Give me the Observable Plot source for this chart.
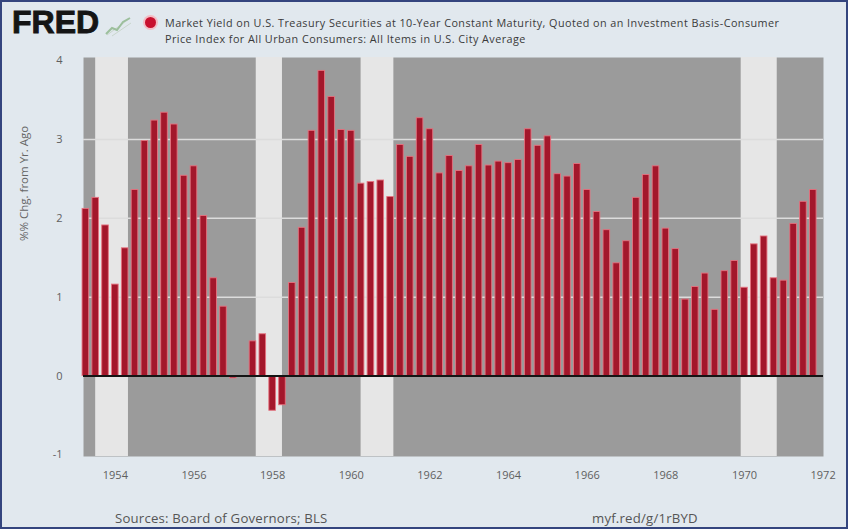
<!DOCTYPE html>
<html><head><meta charset="utf-8">
<script src="https://cdn.jsdelivr.net/npm/d3@7"></script>
<script src="https://cdn.jsdelivr.net/npm/@observablehq/plot@0.6"></script>
<style>
html,body{margin:0;padding:0;background:#fff;}
#wrap{width:848px;height:529px;box-sizing:border-box;border:2px solid #34457e;background:#e1e8ee;position:relative;overflow:hidden;font-family:"Open Sans","Liberation Sans",sans-serif;}
#head{height:42px;position:relative;}
#logo{position:absolute;left:10px;top:2px;font-family:"Liberation Sans",Arial,sans-serif;font-weight:bold;font-size:32px;color:#151515;letter-spacing:0px;-webkit-text-stroke:0.9px #151515;}
#icon{position:absolute;left:102px;top:13px;}
#dot{position:absolute;left:143px;top:15px;width:11px;height:11px;border-radius:50%;background:#c8102e;box-shadow:0 0 0 2px #f4bcc4;}
#leg{position:absolute;left:163px;top:13px;font-size:10.8px;letter-spacing:0.45px;line-height:16px;color:#3a3a3a;white-space:nowrap;}
#chart svg{display:block;}
#foot{height:43px;position:relative;color:#555;font-size:13.2px;letter-spacing:0.2px;}
#src{position:absolute;left:113px;top:25px;}
#url{position:absolute;left:590px;top:25px;}
</style>
</head><body>
<div id="wrap">
  <div id="head">
    <div id="logo">FRED</div>
    <svg id="icon" width="28" height="22" viewBox="0 0 28 22">
      <line x1="3" y1="20" x2="25" y2="4" stroke="#c9d6cc" stroke-width="1"/>
      <line x1="8" y1="21" x2="27" y2="8" stroke="#c9d6cc" stroke-width="1"/>
      <polyline points="2,19 8,13 13,15 19,7 26,3" fill="none" stroke="#9cbf9c" stroke-width="2"/>
    </svg>
    <div id="dot"></div>
    <div id="leg">Market Yield on U.S. Treasury Securities at 10-Year Constant Maturity, Quoted on an Investment Basis-Consumer<br>Price Index for All Urban Consumers: All Items in U.S. City Average</div>
  </div>
  <div id="chart"></div>
  <div id="foot"><div id="src">Sources: Board of Governors; BLS</div><div id="url">myf.red/g/1rBYD</div></div>
</div>
<script>
// Quarterly observations, first quarter 1953 Q2 (April 1953) through 1971 Q4
const firstYear = 1953, firstQuarter = 2;
const values = [
  2.12, 2.26, 1.91,
  1.16, 1.62, 2.36, 2.98,
  3.24, 3.34, 3.19, 2.54,
  2.66, 2.03, 1.24, 0.88,
  -0.03, 0.00, 0.44, 0.53,
  -0.44, -0.37, 1.18, 1.88,
  3.11, 3.87, 3.54, 3.12,
  3.11, 2.44, 2.46, 2.48,
  2.27, 2.93, 2.78, 3.27,
  3.13, 2.57, 2.79, 2.60,
  2.66, 2.93, 2.67, 2.72,
  2.70, 2.74, 3.13, 2.92,
  3.04, 2.56, 2.53, 2.69,
  2.36, 2.08, 1.85, 1.43,
  1.71, 2.26, 2.55, 2.66,
  1.87, 1.61, 0.97, 1.13,
  1.30, 0.84, 1.33, 1.46,
  1.12, 1.67, 1.77, 1.24,
  1.21, 1.93, 2.21, 2.36
];
// NBER recessions (start, end) as year + month
const recessionStart = [[1953, 7], [1957, 8], [1960, 4], [1969, 12]];
const recessionEnd   = [[1954, 5], [1958, 4], [1961, 2], [1970, 11]];
const xTicks = [1954, 1956, 1958, 1960, 1962, 1964, 1966, 1968, 1970, 1972];
const yTicks = [-1, 0, 1, 2, 3, 4];
const yLabel = "%% Chg. from Yr. Ago";

const ym = ([y, m]) => y + (m - 1) / 12;
const data = values.map((v, i) => {
  const q = firstQuarter - 1 + i;
  return {t: firstYear + Math.floor(q / 4) + (q % 4) / 4, v};
});
const recessions = recessionStart.map((s, i) => ({a: ym(s), b: ym(recessionEnd[i])}));
const half = 0.084;

const chart = Plot.plot({
  width: 844,
  height: 440,
  marginLeft: 81,
  marginRight: 23,
  marginTop: 13,
  marginBottom: 28,
  style: {background: "transparent", fontFamily: "'Open Sans', sans-serif", fontSize: "11px", color: "#5f5f5f"},
  x: {domain: [1953.19, 1972.01], ticks: xTicks, tickFormat: d => String(d)},
  y: {domain: [-1.02, 4.04], ticks: yTicks, tickFormat: d => String(d)},
  marks: [
    Plot.frame({fill: "#9b9b9b", stroke: null}),
    Plot.rect(recessions, {x1: "a", x2: "b", y1: -1.02, y2: 4.04, fill: "#e6e6e6"}),
    Plot.gridY([1, 2, 3], {stroke: "#dcdcdc", strokeOpacity: 1, strokeWidth: 1.5}),
    Plot.rect(data, {x1: d => d.t - half, x2: d => d.t + half, y1: 0, y2: "v", fill: "#a3172b", stroke: "#e5727f", strokeWidth: 0.9}),
    Plot.ruleY([0], {stroke: "#141414", strokeWidth: 2}),
    Plot.axisX({ticks: xTicks, tickFormat: d => String(d), tickSize: 0, tickPadding: 15, label: null}),
    Plot.axisY({ticks: yTicks, tickFormat: d => String(d), tickSize: 0, tickPadding: 21, label: null}),
    Plot.text([yLabel], {frameAnchor: "left", dx: -59, dy: -16, rotate: -90, fontSize: 11.5, fill: "#666"})
  ]
});
document.getElementById("chart").appendChild(chart);
</script>
</body></html>
